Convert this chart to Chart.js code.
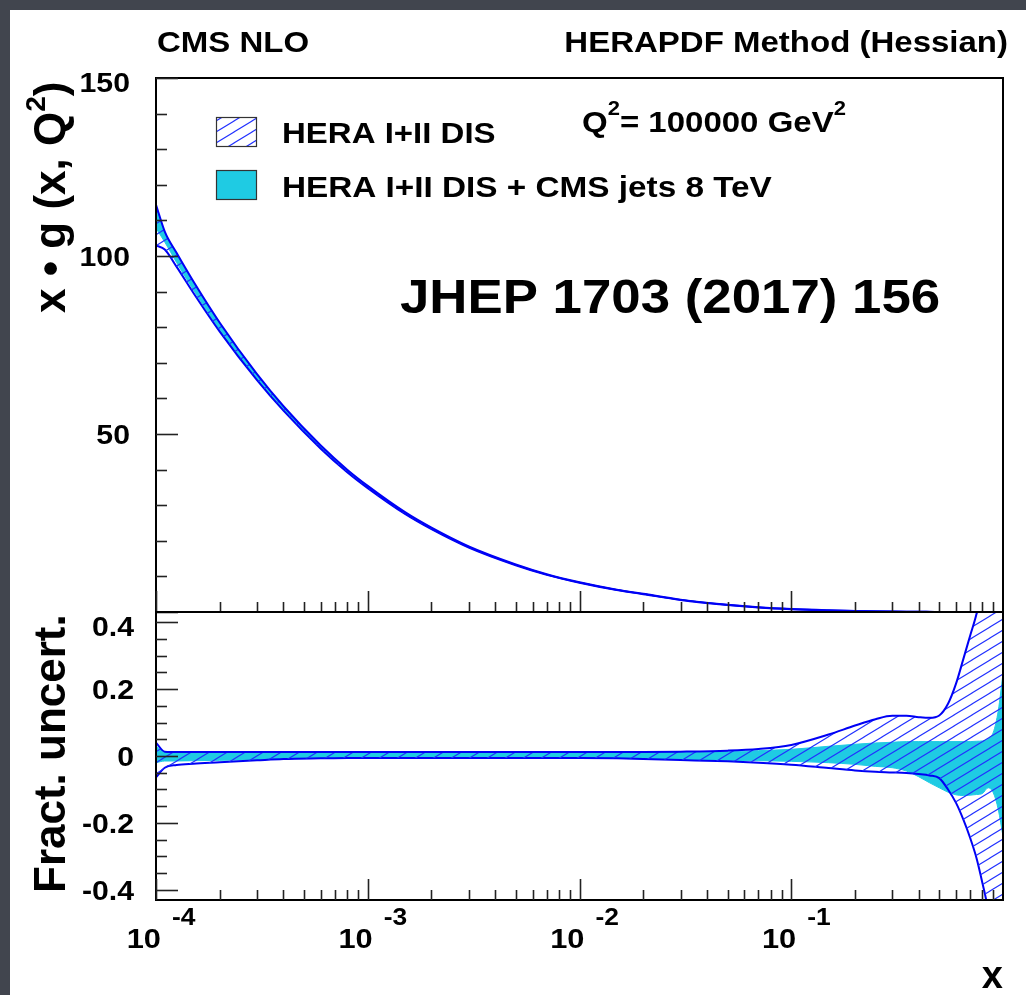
<!DOCTYPE html>
<html>
<head>
<meta charset="utf-8">
<script src="https://cdn.jsdelivr.net/npm/chart.js@4.4.1/dist/chart.umd.min.js"></script>
<style>
  html, body { margin: 0; padding: 0; background: #41454e; overflow: hidden; }
  #sheet { position: absolute; left: 10px; top: 10px; width: 1016px; height: 985px; background: #fff; }
  canvas { position: absolute; left: 0; top: 0; }
</style>
</head>
<body>
<div id="sheet"></div>
<canvas id="pdf" width="1026" height="995"></canvas>
<canvas id="ratio" width="1026" height="995"></canvas>
<script>
// x grid shared by every curve
const X_VALUES = [1e-4, 1.1e-4, 1.25e-4, 1.5e-4, 2e-4, 3e-4, 4e-4, 6e-4, 8e-4, 1e-3,
  1.5e-3, 2e-3, 3e-3, 5e-3, 7e-3, 1e-2, 1.5e-2, 2e-2, 3e-2, 5e-2,
  0.07, 0.1, 0.15, 0.2, 0.25, 0.3, 0.35, 0.4, 0.45, 0.5,
  0.55, 0.6, 0.65, 0.7, 0.75, 0.8, 0.85, 0.9, 0.95, 1.0];

// gluon momentum density x*g(x, Q^2) at Q^2 = 1e5 GeV^2
const XG_CENTRAL = [110, 105.5, 99.7, 91.8, 80.3, 66.0, 57.1, 46.2, 39.5, 35.0,
  27.7, 23.4, 18.2, 13.2, 10.5, 8.26, 6.2, 5.05, 3.43, 2.0,
  1.3, 0.8, 0.45, 0.28, 0.18, 0.12, 0.08, 0.05, 0.035, 0.025,
  0.017, 0.011, 0.007, 0.004, 0.003, 0.002, 0.001, 0.0005, 0.0002, 0];

// fractional uncertainty, HERA I+II DIS only
const HERA_UP = [0.04, 0.013, 0.012, 0.012, 0.012, 0.012, 0.012, 0.012, 0.012, 0.012,
  0.012, 0.012, 0.012, 0.012, 0.012, 0.012, 0.012, 0.012, 0.013, 0.016,
  0.021, 0.033, 0.064, 0.091, 0.11, 0.12, 0.12, 0.116, 0.114, 0.121,
  0.156, 0.216, 0.29, 0.36, 0.425, 0.51, 0.61, 0.73, 0.86, 1.0];
const HERA_DOWN = [-0.064, -0.035, -0.027, -0.023, -0.019, -0.013, -0.009, -0.007, -0.006, -0.006,
  -0.006, -0.006, -0.006, -0.006, -0.006, -0.006, -0.007, -0.009, -0.012, -0.016,
  -0.02, -0.026, -0.036, -0.043, -0.047, -0.049, -0.051, -0.054, -0.058, -0.066,
  -0.1, -0.14, -0.19, -0.245, -0.305, -0.38, -0.46, -0.58, -0.72, -0.9];

// fractional uncertainty, HERA I+II DIS + CMS jets 8 TeV
const CMS_UP = [0.03, 0.012, 0.011, 0.011, 0.011, 0.011, 0.011, 0.011, 0.011, 0.011,
  0.011, 0.011, 0.011, 0.011, 0.011, 0.011, 0.011, 0.011, 0.011, 0.013,
  0.016, 0.02, 0.029, 0.035, 0.039, 0.041, 0.043, 0.043, 0.043, 0.043,
  0.043, 0.043, 0.043, 0.043, 0.044, 0.045, 0.051, 0.071, 0.136, 0.246];
const CMS_DOWN = [-0.02, -0.015, -0.015, -0.014, -0.013, -0.011, -0.009, -0.007, -0.006, -0.006,
  -0.006, -0.006, -0.006, -0.006, -0.006, -0.006, -0.007, -0.009, -0.011, -0.013,
  -0.014, -0.016, -0.02, -0.025, -0.031, -0.035, -0.045, -0.062, -0.08, -0.095,
  -0.108, -0.116, -0.118, -0.117, -0.115, -0.112, -0.095, -0.11, -0.16, -0.24];

// axis labelling
const TOP_Y_LABELS = [50, 100, 150];
const RATIO_Y_LABELS = [-0.4, -0.2, 0, 0.2, 0.4];
const X_DECADES = [-4, -3, -2, -1];

const BLUE = '#0000f5';
const CYAN = '#1fcbe3';
const FONT = '"Liberation Sans", Arial, Helvetica, sans-serif';

// diagonal hatch tile (lines x/W + y/H = n)
function makeHatch() {
  const W = 18, H = 11;
  const c = document.createElement('canvas');
  c.width = W; c.height = H;
  const g = c.getContext('2d');
  g.strokeStyle = '#2030ff';
  g.lineWidth = 1.1;
  g.beginPath();
  g.moveTo(-W, H); g.lineTo(W, -H);
  g.moveTo(0, H); g.lineTo(W, 0);
  g.moveTo(0, 2 * H); g.lineTo(2 * W, 0);
  g.stroke();
  return g.createPattern(c, 'repeat');
}
const HATCH = makeHatch();

const pts = ys => X_VALUES.map((x, i) => ({ x: x, y: ys[i] }));
const onCentral = frac => XG_CENTRAL.map((v, i) => v * (1 + frac[i]));

function bands(heraUp, heraDown, cmsUp, cmsDown) {
  const common = { pointRadius: 0, cubicInterpolationMode: 'monotone' };
  return [
    Object.assign({ label: 'HERA I+II DIS', data: pts(heraUp), borderColor: BLUE, borderWidth: 2,
      backgroundColor: HATCH, fill: '+1' }, common),
    Object.assign({ label: 'HERA I+II DIS low', data: pts(heraDown), borderColor: BLUE, borderWidth: 2,
      fill: false }, common),
    Object.assign({ label: 'HERA I+II DIS + CMS jets 8 TeV', data: pts(cmsUp), borderColor: CYAN, borderWidth: 1,
      backgroundColor: CYAN, fill: '+1' }, common),
    Object.assign({ label: 'CMS low', data: pts(cmsDown), borderColor: CYAN, borderWidth: 1,
      fill: false }, common)
  ];
}

function font(size) { return 'bold ' + size + 'px ' + FONT; }

// text runs with superscripts; stretch widens glyphs like the original plot style
function rich(ctx, parts, x, y, opt) {
  opt = opt || {};
  const angle = opt.angle || 0, stretch = opt.stretch || 1, align = opt.align || 'left';
  ctx.save();
  ctx.translate(x, y);
  ctx.rotate(angle);
  if (angle) ctx.scale(1, stretch); else ctx.scale(stretch, 1);
  ctx.textBaseline = 'alphabetic';
  ctx.textAlign = 'left';
  ctx.fillStyle = '#000';
  const widths = parts.map(p => { ctx.font = font(p.size); return ctx.measureText(p.t).width; });
  const total = widths.reduce((a, b) => a + b, 0);
  let cx = align === 'right' ? -total : align === 'center' ? -total / 2 : 0;
  parts.forEach((p, i) => {
    ctx.font = font(p.size);
    ctx.fillText(p.t, cx, -(p.rise || 0));
    cx += widths[i];
  });
  ctx.restore();
}

function line(ctx, x1, y1, x2, y2) {
  ctx.beginPath(); ctx.moveTo(x1, y1); ctx.lineTo(x2, y2); ctx.stroke();
}

function drawYTicks(ctx, scale, area, lo, hi, step, majorEvery) {
  ctx.strokeStyle = '#222';
  ctx.lineWidth = 1.6;
  const n = Math.round((hi - lo) / step);
  for (let i = 0; i <= n; i++) {
    const v = lo + i * step;
    const y = Math.round(scale.getPixelForValue(v)) + 0.5;
    const major = i % majorEvery === 0;
    line(ctx, area.left, y, area.left + (major ? 22 : 11), y);
  }
}

function drawXTicks(ctx, scale, area) {
  ctx.strokeStyle = '#222';
  ctx.lineWidth = 1.6;
  X_DECADES.forEach(d => {
    for (let k = 1; k <= 9; k++) {
      const v = k * Math.pow(10, d);
      const x = Math.round(scale.getPixelForValue(v)) + 0.5;
      line(ctx, x, area.bottom, x, area.bottom - (k === 1 ? 21 : 10));
    }
  });
}

function drawFrame(ctx, area) {
  ctx.strokeStyle = '#000';
  ctx.lineWidth = 2;
  ctx.strokeRect(area.left, area.top, area.right - area.left, area.bottom - area.top);
}

const pdfDecor = {
  id: 'pdfDecor',
  afterDraw(chart) {
    const ctx = chart.ctx, area = chart.chartArea;
    const ys = chart.scales.y, xs = chart.scales.x;
    drawFrame(ctx, area);
    drawYTicks(ctx, ys, area, 0, 150, 10, 5);
    drawXTicks(ctx, xs, area);
    TOP_Y_LABELS.forEach(v => {
      const y = ys.getPixelForValue(v) + (v === 150 ? 14 : 10);
      rich(ctx, [{ t: String(v), size: 28 }], 130, y, { align: 'right', stretch: 1.08 });
    });

    rich(ctx, [{ t: 'CMS NLO', size: 30 }], 157, 52, { stretch: 1.1 });
    rich(ctx, [{ t: 'HERAPDF Method (Hessian)', size: 30 }], 1008, 52, { align: 'right', stretch: 1.1 });

    // legend boxes
    ctx.fillStyle = '#fff';
    ctx.fillRect(216, 117, 41, 30);
    ctx.fillStyle = HATCH;
    ctx.fillRect(216, 117, 41, 30);
    ctx.strokeStyle = '#333';
    ctx.lineWidth = 1.2;
    ctx.strokeRect(216.5, 117.5, 40, 29);
    ctx.fillStyle = CYAN;
    ctx.fillRect(216, 170, 41, 30);
    ctx.strokeRect(216.5, 170.5, 40, 29);
    rich(ctx, [{ t: 'HERA I+II DIS', size: 30 }], 282, 143, { stretch: 1.1 });
    rich(ctx, [{ t: 'HERA I+II DIS + CMS jets 8 TeV', size: 30 }], 282, 197, { stretch: 1.11 });

    rich(ctx, [{ t: 'Q', size: 30 }, { t: '2', size: 20, rise: 17 }, { t: '= 100000 GeV', size: 30 },
      { t: '2', size: 20, rise: 17 }], 582, 132, { stretch: 1.1 });
    rich(ctx, [{ t: 'JHEP 1703 (2017) 156', size: 48 }], 400, 313, { stretch: 1.1 });

    rich(ctx, [{ t: 'x \u2022 g (x, Q', size: 44 }, { t: '2', size: 28, rise: 20 }, { t: ')', size: 44 }],
      65, 313, { angle: -Math.PI / 2 });
  }
};

const ratioDecor = {
  id: 'ratioDecor',
  afterDraw(chart) {
    const ctx = chart.ctx, area = chart.chartArea;
    const ys = chart.scales.y, xs = chart.scales.x;
    drawFrame(ctx, area);
    drawYTicks(ctx, ys, area, -0.4, 0.4, 0.05, 4);
    drawXTicks(ctx, xs, area);
    RATIO_Y_LABELS.forEach(v => {
      const y = ys.getPixelForValue(v) + (v === 0.4 ? 14 : 10);
      const t = v === 0 ? '0' : v.toFixed(1);
      rich(ctx, [{ t: t, size: 28 }], 134, y, { align: 'right', stretch: 1.08 });
    });
    X_DECADES.forEach(d => {
      const x = xs.getPixelForValue(Math.pow(10, d));
      rich(ctx, [{ t: '10', size: 28 }], x + 5, 948, { align: 'right', stretch: 1.1 });
      rich(ctx, [{ t: String(d), size: 24 }], x + 16, 925, { stretch: 1.1 });
    });
    rich(ctx, [{ t: 'x', size: 38 }], 1003, 988, { align: 'right' });
    rich(ctx, [{ t: 'Fract. uncert.', size: 44 }], 65, 893, { angle: -Math.PI / 2 });
  }
};

function xScale() {
  return { type: 'logarithmic', min: 1e-4, max: 1, display: false };
}

new Chart(document.getElementById('pdf'), {
  type: 'line',
  data: { datasets: bands(onCentral(HERA_UP), onCentral(HERA_DOWN), onCentral(CMS_UP), onCentral(CMS_DOWN)) },
  options: {
    responsive: false,
    animation: false,
    devicePixelRatio: 1,
    layout: { padding: { left: 156, right: 23, top: 78, bottom: 383 } },
    scales: { x: xScale(), y: { type: 'linear', min: 0, max: 150, display: false } },
    plugins: { legend: { display: false }, tooltip: { enabled: false } }
  },
  plugins: [pdfDecor]
});

new Chart(document.getElementById('ratio'), {
  type: 'line',
  data: { datasets: bands(HERA_UP, HERA_DOWN, CMS_UP, CMS_DOWN) },
  options: {
    responsive: false,
    animation: false,
    devicePixelRatio: 1,
    layout: { padding: { left: 156, right: 23, top: 612, bottom: 95 } },
    scales: { x: xScale(), y: { type: 'linear', min: -0.43, max: 0.43, display: false } },
    plugins: { legend: { display: false }, tooltip: { enabled: false } }
  },
  plugins: [ratioDecor]
});
</script>
</body>
</html>
